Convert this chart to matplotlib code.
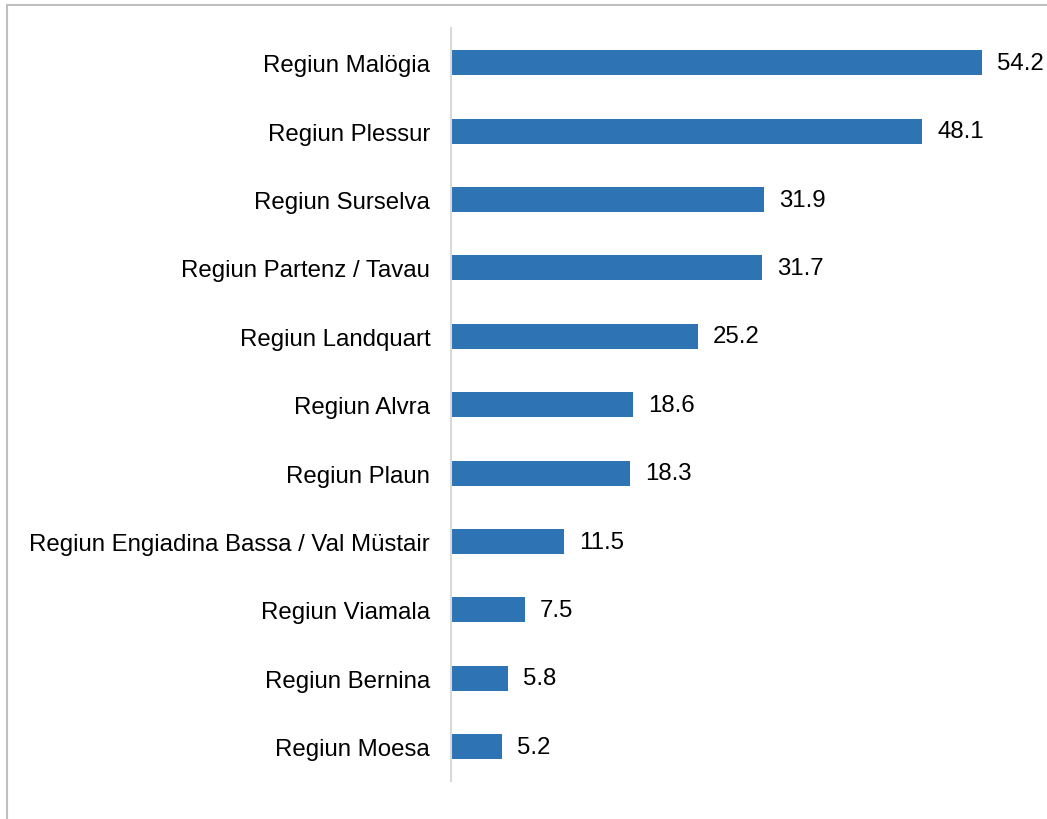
import matplotlib
matplotlib.use("Agg")
import matplotlib.pyplot as plt
from matplotlib.patches import Rectangle

categories = ["Regiun Malögia", "Regiun Plessur", "Regiun Surselva", "Regiun Partenz / Tavau",
              "Regiun Landquart", "Regiun Alvra", "Regiun Plaun",
              "Regiun Engiadina Bassa / Val Müstair", "Regiun Viamala", "Regiun Bernina",
              "Regiun Moesa"]
values = [54.2, 48.1, 31.9, 31.7, 25.2, 18.6, 18.3, 11.5, 7.5, 5.8, 5.2]

plt.rcParams['font.family'] = ['Liberation Sans', 'DejaVu Sans']

W, H = 1047, 820
fig = plt.figure(figsize=(W / 100, H / 100), dpi=100)
ax = fig.add_axes([451 / W, 1 - 782 / H, (1039 - 451) / W, (782 - 29.5) / H])

ypos = list(range(len(categories)))
ax.barh(ypos, values, height=0.365, color="#2E74B5")
ax.set_ylim(len(categories) - 0.5, -0.5)
ax.set_xlim(0, 60)
ax.set_yticks(ypos)
ax.set_yticklabels(categories, fontsize=17.3)
ax.tick_params(axis='y', length=0, pad=15)
ax.set_xticks([])
for s in ["top", "right", "bottom"]:
    ax.spines[s].set_visible(False)
ax.spines["left"].set_color("#d9d9d9")
ax.spines["left"].set_linewidth(1.5)

for y, v in zip(ypos, values):
    ax.annotate(f"{v:.1f}", (v, y), xytext=(11, 0), textcoords="offset points",
                va="center", ha="left", fontsize=17.3)

fig.patches.append(Rectangle((6.5 / W, -0.5), 2, 1.5 - 5.5 / H,
                             transform=fig.transFigure, fill=False,
                             edgecolor="#bfbfbf", linewidth=1.5))
fig.savefig("out.png", dpi=100)
